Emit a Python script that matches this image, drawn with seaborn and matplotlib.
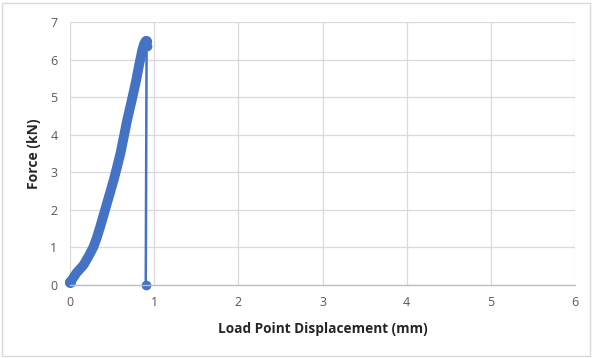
import matplotlib
matplotlib.use("Agg")
import matplotlib.pyplot as plt
import seaborn as sns
import pandas as pd
from matplotlib.patches import Rectangle

# Data
displacement = [0.00, 0.02, 0.08, 0.16, 0.22, 0.28, 0.32, 0.36, 0.40, 0.44, 0.48, 0.52,
                0.56, 0.60, 0.64, 0.68, 0.73, 0.78, 0.82, 0.86, 0.88, 0.90, 0.91]
force = [0.07, 0.13, 0.33, 0.53, 0.76, 1.02, 1.27, 1.56, 1.87, 2.18, 2.49, 2.80,
         3.15, 3.51, 3.95, 4.40, 4.88, 5.38, 5.84, 6.27, 6.42, 6.49, 6.36]
# final failure drop
drop_x = [0.91, 0.90]
drop_y = [6.36, 0.00]

x_ticks = [0, 1, 2, 3, 4, 5, 6]
y_ticks = [0, 1, 2, 3, 4, 5, 6, 7]

sns.set_theme(style="white")
plt.rcParams['font.family'] = ['Open Sans', 'DejaVu Sans']

fig = plt.figure(figsize=(5.92, 3.58), dpi=100)
ax = fig.add_axes([70/592, 1-285/358, (575-70)/592, (285-22)/358])

color = "#4472C4"
df = pd.DataFrame({"x": displacement, "y": force})
sns.lineplot(data=df, x="x", y="y", sort=False, ax=ax, color=color, lw=7,
             solid_capstyle="round", solid_joinstyle="round", clip_on=False)
ddf = pd.DataFrame({"x": drop_x, "y": drop_y})
sns.lineplot(data=ddf, x="x", y="y", sort=False, ax=ax, color=color, lw=1.8,
             marker="o", markersize=7, markeredgewidth=0, clip_on=False)
ax.plot(displacement[0], force[0], "o", color=color, ms=8, mew=0, clip_on=False)
ax.plot(displacement[-2], force[-2], "o", color=color, ms=8, mew=0, clip_on=False)

ax.set_xlim(0, 6)
ax.set_ylim(0, 7)
ax.set_xticks(x_ticks)
ax.set_yticks(y_ticks)
ax.grid(True, color="#d9d9d9", lw=0.9)
ax.set_axisbelow(True)
for s in ["top", "right", "left"]:
    ax.spines[s].set_visible(False)
ax.spines["bottom"].set_color("#bfbfbf")
ax.spines["bottom"].set_linewidth(1.0)
ax.tick_params(axis="both", length=0, labelsize=9, labelcolor="#595959")
ax.tick_params(axis="x", pad=8)
ax.tick_params(axis="y", pad=9)
ax.set_xlabel("Load Point Displacement (mm)", fontsize=9.8, fontweight="bold",
              color="#262626", labelpad=9)
ax.set_ylabel("Force (kN)", fontsize=10, fontweight="bold", color="#262626",
              labelpad=7)

fig.patches.append(Rectangle((2/592, 2/358), 588/592, 353/358, transform=fig.transFigure,
                             fill=False, edgecolor="#d9d9d9", lw=1))
fig.savefig("out.png", dpi=100)
